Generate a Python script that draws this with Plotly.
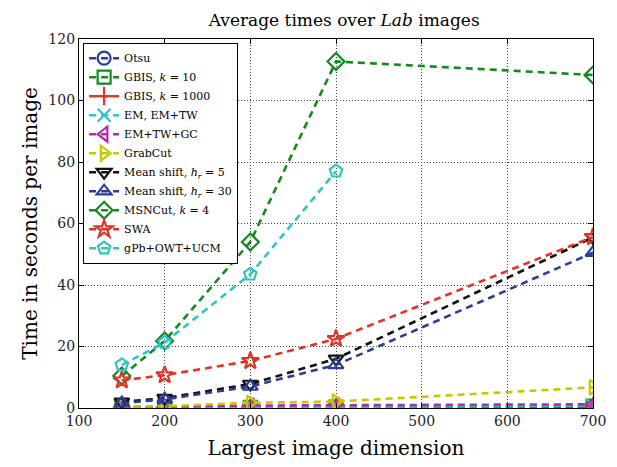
import plotly.graph_objects as go

x_all = [150, 200, 300, 400, 700]
x_gpb = [150, 200, 300, 400]

names = [
    "Otsu",
    "GBIS, <i>k</i> = 10",
    "GBIS, <i>k</i> = 1000",
    "EM, EM+TW",
    "EM+TW+GC",
    "GrabCut",
    "Mean shift, <i>h<sub>r</sub></i> = 5",
    "Mean shift, <i>h<sub>r</sub></i> = 30",
    "MSNCut, <i>k</i> = 4",
    "SWA",
    "gPb+OWT+UCM",
]
otsu = [0.05, 0.05, 0.1, 0.1, 0.2]
gbis10 = [0.1, 0.15, 0.2, 0.3, 0.6]
gbis1000 = [0.1, 0.15, 0.2, 0.3, 0.6]
em = [0.2, 0.2, 0.3, 0.4, 0.8]
emtwgc = [0.5, 0.5, 0.8, 0.9, 1.2]
grabcut = [0.5, 0.6, 1.7, 2.1, 6.7]
ms5 = [2.0, 3.2, 7.8, 16.0, 55.5]
ms30 = [1.6, 2.8, 7.0, 14.0, 50.5]
msncut = [10.4, 21.8, 54.0, 112.7, 108.3]
swa = [9.0, 10.7, 15.3, 22.5, 55.6]
gpb = [14.0, 21.3, 43.5, 77.0]

series = [otsu, gbis10, gbis1000, em, emtwgc, grabcut, ms5, ms30, msncut, swa, gpb]
xs = [x_all] * 10 + [x_gpb]
colors = ["#2a3d9c", "#128a1e", "#e33226", "#2ec4c6", "#b02ab0", "#c8c800",
          "#111111", "#2a3d9c", "#128a1e", "#e33226", "#2ec4c6"]
symbols = ["circle-open", "square-open", "cross-thin-open", "x-thin-open",
           "triangle-left-open", "triangle-right-open", "triangle-down-open",
           "triangle-up-open", "diamond-open", "star-open", "pentagon-open"]

fig = go.Figure()
for name, xv, yv, c, s in zip(names, xs, series, colors, symbols):
    fig.add_trace(go.Scatter(
        x=xv, y=yv, name=name, mode="lines+markers",
        line=dict(color=c, width=2.6, dash="7px,5px"),
        marker=dict(symbol=s, size=13, color=c, line=dict(color=c, width=2.2)),
    ))

font_family = "DejaVu Serif, serif"
axis_common = dict(
    showline=True, linecolor="black", linewidth=1.3, mirror="ticks",
    ticks="inside", ticklen=5, tickcolor="black", tickwidth=1,
    showgrid=True, gridcolor="#444444", griddash="1px,2px", gridwidth=1,
    zeroline=False, tickfont=dict(size=14, color="#222"), automargin=False,
)
fig.update_layout(
    width=609, height=459,
    margin=dict(l=71, r=24, t=31, b=59),
    plot_bgcolor="white", paper_bgcolor="white",
    font=dict(family=font_family, color="black"),
    title=dict(text="Average times over <i>Lab</i> images", x=0.552, xanchor="center",
               y=0.974, yanchor="middle", font=dict(size=17)),
    xaxis=dict(range=[100, 700], tickvals=[100, 200, 300, 400, 500, 600, 700],
               title=dict(text="Largest image dimension", font=dict(size=20), standoff=13),
               **axis_common),
    yaxis=dict(range=[0, 120], tickvals=[0, 20, 40, 60, 80, 100, 120],
               title=dict(text="Time in seconds per image", font=dict(size=20), standoff=5),
               **axis_common),
    legend=dict(x=0.008, y=0.99, xanchor="left", yanchor="top",
                bordercolor="black", borderwidth=1, bgcolor="white",
                font=dict(size=11), tracegroupgap=0, itemwidth=30),
    showlegend=True,
)

fig.write_html("out.html")
